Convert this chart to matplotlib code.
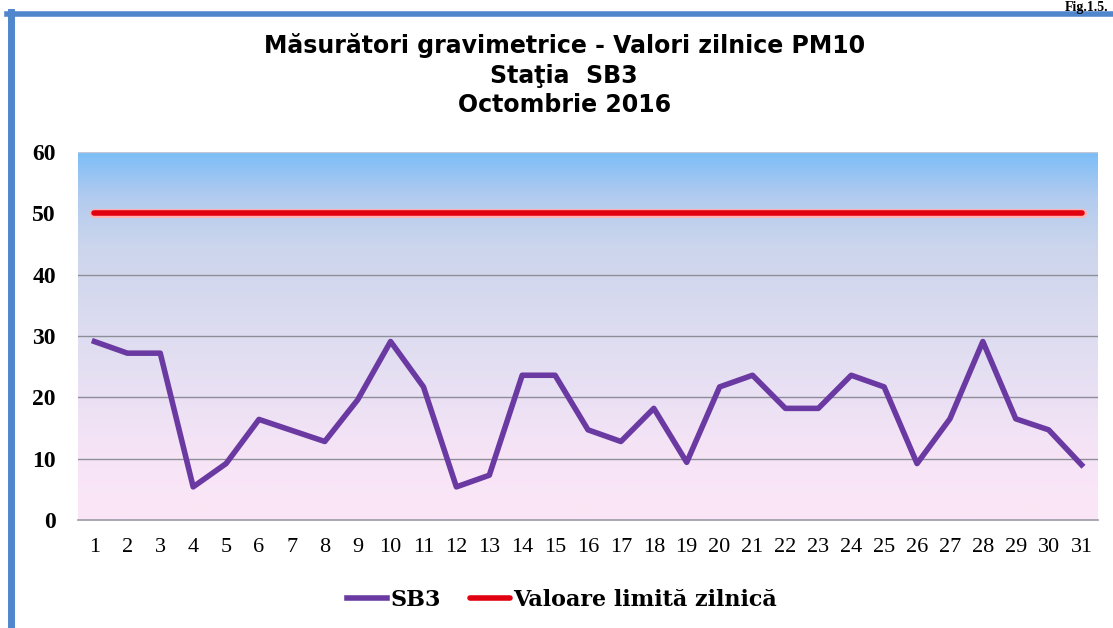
import numpy as np
import matplotlib.pyplot as plt
from matplotlib.colors import LinearSegmentedColormap
from matplotlib.lines import Line2D

zile = list(range(1, 32))
sb3 = [29.1, 27.2, 27.2, 5.4, 9.2, 16.4, 14.6, 12.8, 19.6, 29.1,
       21.7, 5.4, 7.3, 23.6, 23.6, 14.7, 12.8, 18.2, 9.4, 21.7,
       23.6, 18.2, 18.2, 23.6, 21.7, 9.2, 16.5, 29.1, 16.5, 14.7, 9.0]
limita = [50] * 31

titlu = "Măsurători gravimetrice - Valori zilnice PM10\nStaţia  SB3\nOctombrie 2016"

fig = plt.figure(figsize=(11.13, 6.28), dpi=100)
fig.patch.set_facecolor("white")

# rama albastra (sus si stanga)
fig.add_artist(Line2D([7/1113, 1], [1-13.5/628, 1-13.5/628], color="#4f86cc", lw=4))
fig.add_artist(Line2D([10.5/1113, 10.5/1113], [0, 1-12/628], color="#4f86cc", lw=5))
fig.text(1108/1113, 1-1/628, "Fig.1.5.", fontsize=10, fontweight="bold",
         family="Liberation Serif", va="top", ha="right")

ax = fig.add_axes([78/1113, 1-520/628, 1020/1113, 368/628])

# fundal in degrade
cmap = LinearSegmentedColormap.from_list("fund", [
    (0.0, "#fbe6f6"), (0.18, "#f6e4f6"), (0.45, "#e2def2"),
    (0.75, "#cbd5ec"), (0.88, "#b2cbef"), (1.0, "#7cbdf7")])
grad = np.linspace(0, 1, 256).reshape(-1, 1)
ax.imshow(grad, aspect="auto", cmap=cmap, origin="lower",
          extent=[0.5, 31.5, 0, 60], zorder=0)

for g in [10, 20, 30, 40]:
    ax.axhline(g, color="#8e8e99", lw=1.0, zorder=1)
ax.axhline(60, color="#c0c8d8", lw=1.0, zorder=1)

ax.plot(zile, limita, color="#ffb0b0", lw=6.5, solid_capstyle="round", zorder=2)
ax.plot(zile, limita, color="#e00010", lw=4, solid_capstyle="round", zorder=3,
        label="Valoare limită zilnică")
ax.plot(zile, sb3, color="#6a3aa2", lw=4, zorder=4, label="SB3")

ax.set_xlim(0.5, 31.5)
ax.set_ylim(0, 60)
ax.set_xticks(zile)
ax.set_xticklabels([str(z) for z in zile], family="Liberation Serif", fontsize=16)
ax.set_yticks(range(0, 61, 10))
ax.set_yticklabels([str(v) for v in range(0, 61, 10)], family="Liberation Serif",
                   fontsize=17, fontweight="bold")
ax.tick_params(length=0, pad=13)
ax.tick_params(axis="y", pad=16)
for s in ["top", "right", "left"]:
    ax.spines[s].set_visible(False)
ax.spines["bottom"].set_color("#9a9aa6")
ax.spines["bottom"].set_linewidth(1.2)

fig.text(0.507, 1-33/628, titlu, ha="center", va="top", fontsize=17,
         fontweight="bold", family="DejaVu Sans", linespacing=1.3)

h, l = ax.get_legend_handles_labels()
fig.legend([h[1], h[0]], [l[1], l[0]], loc="center", bbox_to_anchor=(0.505, 1-600/628),
           ncol=2, frameon=False, handlelength=1.8, handletextpad=0.15,
           columnspacing=1.3, prop={"family": "DejaVu Serif", "size": 16,
                                    "weight": "bold"})

fig.savefig("out.png", dpi=100)
